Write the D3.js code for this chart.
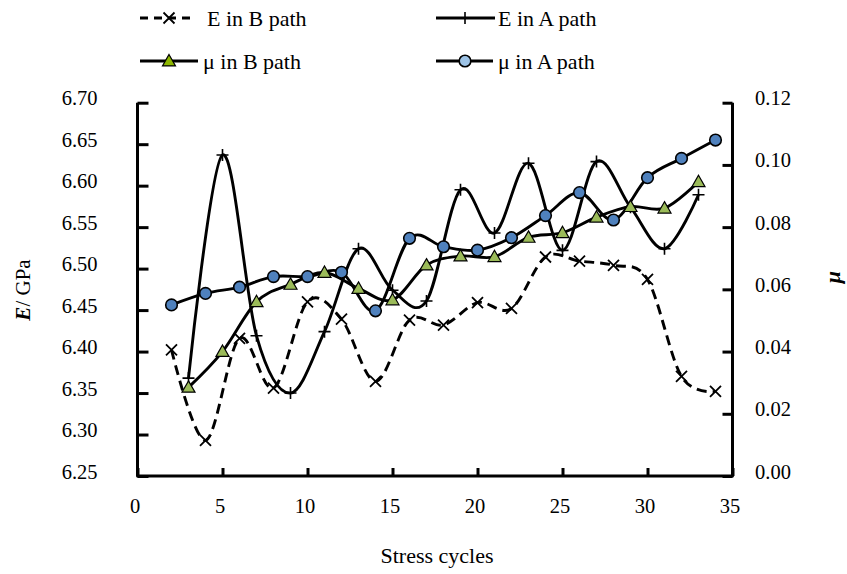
<!DOCTYPE html>
<html><head><meta charset="utf-8">
<script src="https://cdn.jsdelivr.net/npm/d3@7/dist/d3.min.js"></script>
<style>body{margin:0;background:#fff}svg{display:block}text{font-family:"Liberation Serif","Times New Roman",serif;fill:#000}</style>
</head><body>
<script>
const xEB = [2,4,6,8,10,12,14,16,18,20,22,24,26,28,30,32,34];
const eB  = [6.402,6.293,6.416,6.356,6.460,6.439,6.364,6.438,6.432,6.459,6.452,6.514,6.509,6.504,6.487,6.370,6.352];
const xEA = [3,5,7,9,11,13,15,17,19,21,23,25,27,29,31,33];
const eA  = [6.368,6.637,6.419,6.350,6.424,6.524,6.474,6.461,6.595,6.543,6.627,6.522,6.629,6.574,6.524,6.589];
const xMB = [3,5,7,9,11,13,15,17,19,21,23,25,27,29,31,33];
const muB = [0.0285,0.0400,0.0560,0.0616,0.0654,0.0603,0.0566,0.0678,0.0707,0.0705,0.0767,0.0782,0.0832,0.0866,0.0861,0.0946];
const xMA = [2,4,6,8,10,12,14,16,18,20,22,24,26,28,30,32,34];
const muA = [0.0550,0.0587,0.0607,0.0641,0.0641,0.0655,0.0531,0.0764,0.0737,0.0726,0.0766,0.0837,0.0911,0.0823,0.0959,0.1021,0.1080];
const xTicks = [0,5,10,15,20,25,30,35];
const eTicks = [6.25,6.30,6.35,6.40,6.45,6.50,6.55,6.60,6.65,6.70];
const muTicks = [0,0.02,0.04,0.06,0.08,0.10,0.12];
const legendNames = ["E in B path","E in A path","\u03bc in B path","\u03bc in A path"];

const W=847,H=574;
const L=137.5,R=732.5,T=102.7,B=476;
const svg=d3.select("body").append("svg").attr("width",W).attr("height",H);
const x=d3.scaleLinear().domain([0,35]).range([L,R]);
const yE=d3.scaleLinear().domain([6.25,6.70]).range([B,T]);
const yM=d3.scaleLinear().domain([0,0.12]).range([B,T]);

const ax=svg.append("g");
const gx=ax.append("g").attr("transform",`translate(0,${B})`)
  .call(d3.axisBottom(x).tickValues(xTicks).tickSize(-8).tickPadding(22).tickFormat(d3.format("d")));
const gl=ax.append("g").attr("transform",`translate(${L},0)`)
  .call(d3.axisLeft(yE).tickValues(eTicks).tickSize(-11).tickPadding(40).tickFormat(d3.format(".2f")));
const gr=ax.append("g").attr("transform",`translate(${R},0)`)
  .call(d3.axisRight(yM).tickValues(muTicks).tickSize(-10).tickPadding(22.5).tickFormat(d3.format(".2f")));
[gx,gl,gr].forEach(g=>{
  g.select(".domain").remove();
  g.selectAll(".tick line").attr("stroke","#000").attr("stroke-width",3);
  g.selectAll(".tick text").attr("font-size",20.5).attr("font-family","Liberation Serif");
});
gl.selectAll(".tick text").attr("dy","0.1em");
gr.selectAll(".tick text").attr("dy","0.1em");
gx.selectAll(".tick text").attr("transform","translate(-3,0)");
ax.append("path").attr("d",`M${L},${T}V${B}H${R}V${T}`).attr("fill","none").attr("stroke","#000").attr("stroke-width",3).attr("stroke-linejoin","round");

// axis titles
svg.append("text").attr("x",437).attr("y",563).attr("text-anchor","middle").attr("font-size",22).text("Stress cycles");
const lt=svg.append("text").attr("transform","translate(30,290) rotate(-90)").attr("text-anchor","middle").attr("font-size",21);
lt.append("tspan").attr("font-weight","bold").attr("font-style","italic").text("E");
lt.append("tspan").text("/ GPa");
svg.append("text").attr("transform","translate(840,277) rotate(-90)").attr("text-anchor","middle").attr("font-size",22).attr("font-weight","bold").attr("font-style","italic").text("\u03bc");

const curve=d3.curveCatmullRom.alpha(0);
const plot=svg.append("g");
function series(xs,ys,ysc,dash){
  const line=d3.line().x((d,i)=>x(xs[i])).y(d=>ysc(d)).curve(curve);
  plot.append("path").datum(ys).attr("d",line).attr("fill","none").attr("stroke","#000")
    .attr("stroke-width",2.9).attr("stroke-dasharray",dash||null);
}
function markX(g,cx,cy,s){g.append("path").attr("d",`M${cx-s},${cy-s}L${cx+s},${cy+s}M${cx-s},${cy+s}L${cx+s},${cy-s}`).attr("stroke","#000").attr("stroke-width",1.8);}
function markPlus(g,cx,cy,s){g.append("path").attr("d",`M${cx-s},${cy}L${cx+s},${cy}M${cx},${cy-s}L${cx},${cy+s}`).attr("stroke","#000").attr("stroke-width",1.6);}
function markTri(g,cx,cy,s,fill){g.append("path").attr("d",`M${cx},${cy-s}L${cx+s},${cy+s*0.75}L${cx-s},${cy+s*0.75}Z`).attr("fill",fill).attr("stroke","#000").attr("stroke-width",1.2);}
function markCirc(g,cx,cy,r,fill){g.append("circle").attr("cx",cx).attr("cy",cy).attr("r",r).attr("fill",fill).attr("stroke","#000").attr("stroke-width",1.6);}

series(xEB,eB,yE,"10,6");
series(xEA,eA,yE);
series(xMB,muB,yM);
series(xMA,muA,yM);
const mk=svg.append("g");
eB.forEach((d,i)=>markX(mk,x(xEB[i]),yE(d),5.5));
eA.forEach((d,i)=>markPlus(mk,x(xEA[i]),yE(d),6));
muB.forEach((d,i)=>markTri(mk,x(xMB[i]),yM(d),6.5,"#9bbb59"));
muA.forEach((d,i)=>markCirc(mk,x(xMA[i]),yM(d),5.8,"#4f81bd"));

// legend
const lg=svg.append("g");
const rows=[[140,193,18,0],[436,495,18,1],[140,198,61,2],[436,493,61,3]];
rows.forEach(([x0,x1,yy,k])=>{
  lg.append("line").attr("x1",x0).attr("x2",x1).attr("y1",yy).attr("y2",yy).attr("stroke","#000").attr("stroke-width",2.9).attr("stroke-dasharray",k===0?"8,6":null);
  const cx=(k%2===0)?169:465;
  if(k===0)markX(lg,cx,yy,5.5);
  if(k===1)markPlus(lg,cx,yy,6);
  if(k===2)markTri(lg,cx,yy,6.5,"#8db700");
  if(k===3)markCirc(lg,cx,yy,5.8,"#9dc3e6");
  lg.append("text").attr("x",k===0?207:(k===2?203:498)).attr("y",yy).attr("dy","0.35em").attr("font-size",22).text(legendNames[k]);
});
</script>
</body></html>
